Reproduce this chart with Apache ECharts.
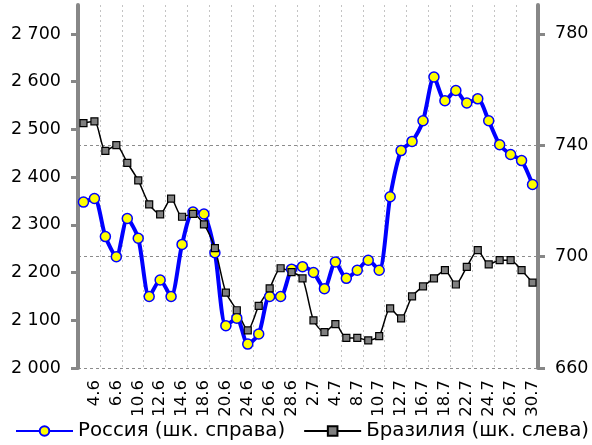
<!DOCTYPE html>
<html lang="ru">
<head>
<meta charset="UTF-8">
<title>Россия и Бразилия</title>
<script src="https://cdn.jsdelivr.net/npm/echarts@6/dist/echarts.min.js"></script>
<style>
  html, body { margin: 0; padding: 0; background: #fff; }
  #chart { width: 592px; height: 445px; }
</style>
</head>
<body>
<div id="chart"></div>
<script>
// торговые дни, подписан каждый второй
var dates = ['3.6', '4.6', '5.6', '6.6', '7.6', '10.6', '11.6', '12.6', '13.6', '14.6',
  '17.6', '18.6', '19.6', '20.6', '21.6', '24.6', '25.6', '26.6', '27.6', '28.6',
  '1.7', '2.7', '3.7', '4.7', '5.7', '8.7', '9.7', '10.7', '11.7', '12.7',
  '15.7', '16.7', '17.7', '18.7', '19.7', '22.7', '23.7', '24.7', '25.7', '26.7',
  '29.7', '30.7'];

// Россия, правая шкала
var russia = [719.6, 720.9, 707.2, 700.0, 713.7, 706.6, 685.7, 691.6, 685.7, 704.4,
  716.0, 715.3, 701.4, 675.2, 677.9, 668.6, 672.2, 685.7, 685.7, 695.5,
  696.4, 694.3, 688.5, 698.1, 692.2, 695.1, 698.7, 695.1, 721.5, 738.1,
  741.4, 748.8, 764.5, 756.0, 759.7, 755.2, 756.7, 748.8, 740.2, 736.7,
  734.5, 725.9];

// Бразилия, левая шкала
var brazil = [2513, 2517, 2455, 2467, 2430, 2393, 2343, 2322, 2355, 2317,
  2323, 2301, 2251, 2158, 2121, 2079, 2130, 2167, 2209, 2201,
  2188, 2100, 2075, 2092, 2063, 2063, 2058, 2067, 2125, 2104,
  2150, 2171, 2188, 2205, 2175, 2212, 2247, 2217, 2226, 2226,
  2205, 2179];

var leftTicks = [2000, 2100, 2200, 2300, 2400, 2500, 2600, 2700];
var rightTicks = [660, 700, 740, 780];

var names = ['Россия (шк. справа)', 'Бразилия (шк. слева)'];

var font = 'DejaVu Sans';
var axisGrey = '#878787';

var myChart = echarts.init(document.getElementById('chart'));

var option = {
  animation: false,
  backgroundColor: '#fff',
  grid: { left: 78, right: 54, top: 5, bottom: 77 },
  legend: {
    data: names,
    left: 15,
    top: 421,
    padding: 0,
    itemWidth: 57,
    itemHeight: 12,
    itemGap: 18,
    textStyle: { fontFamily: font, fontSize: 19.8, color: '#000' }
  },
  xAxis: {
    type: 'category',
    data: dates,
    boundaryGap: true,
    axisLine: { show: false },
    axisTick: { show: false },
    axisLabel: {
      interval: function (i) { return i % 2 === 1; },
      rotate: 90,
      margin: 12,
      fontFamily: font,
      fontSize: 16.5,
      color: '#000'
    },
    splitLine: {
      show: true,
      interval: function (i) { return i % 2 === 0; },
      lineStyle: { color: '#c4c4c4', width: 1, type: [2, 3] }
    }
  },
  yAxis: [{
    type: 'value',
    position: 'left',
    min: 2000,
    max: 2760.7,
    interval: 100,
    axisLine: { show: true, lineStyle: { color: axisGrey, width: 4 } },
    axisTick: { show: true, length: 7, customValues: leftTicks, lineStyle: { color: axisGrey, width: 3 } },
    axisLabel: {
      customValues: leftTicks,
      margin: 17,
      fontFamily: font,
      fontSize: 17.5,
      color: '#000',
      formatter: function (v) { return String(v).replace(/\B(?=(\d{3})+(?!\d))/g, ' '); }
    },
    splitLine: { show: false }
  }, {
    type: 'value',
    position: 'right',
    min: 660,
    max: 790.4,
    interval: 40,
    axisLine: { show: true, lineStyle: { color: axisGrey, width: 4 } },
    axisTick: { show: true, length: 7, customValues: rightTicks, lineStyle: { color: axisGrey, width: 3 } },
    axisLabel: {
      customValues: rightTicks,
      margin: 17,
      fontFamily: font,
      fontSize: 17.5,
      color: '#000'
    },
    splitLine: {
      show: true,
      showMaxLine: false,
      lineStyle: { color: '#8c8c8c', width: 1, type: [3, 3] }
    }
  }],
  series: [{
    name: names[0],
    type: 'line',
    yAxisIndex: 1,
    data: russia,
    smooth: 0.25,
    showAllSymbol: true,
    symbol: 'circle',
    symbolSize: 10,
    lineStyle: { color: '#0000ff', width: 4 },
    itemStyle: { color: '#ffff00', borderColor: '#0000ff', borderWidth: 1.5 }
  }, {
    name: names[1],
    type: 'line',
    yAxisIndex: 0,
    data: brazil,
    smooth: 0.25,
    showAllSymbol: true,
    symbol: 'rect',
    symbolSize: 7,
    lineStyle: { color: '#000', width: 1.5 },
    itemStyle: { color: '#7f7f7f', borderColor: '#000', borderWidth: 1.2 }
  }]
};

myChart.setOption(option);
</script>
</body>
</html>
